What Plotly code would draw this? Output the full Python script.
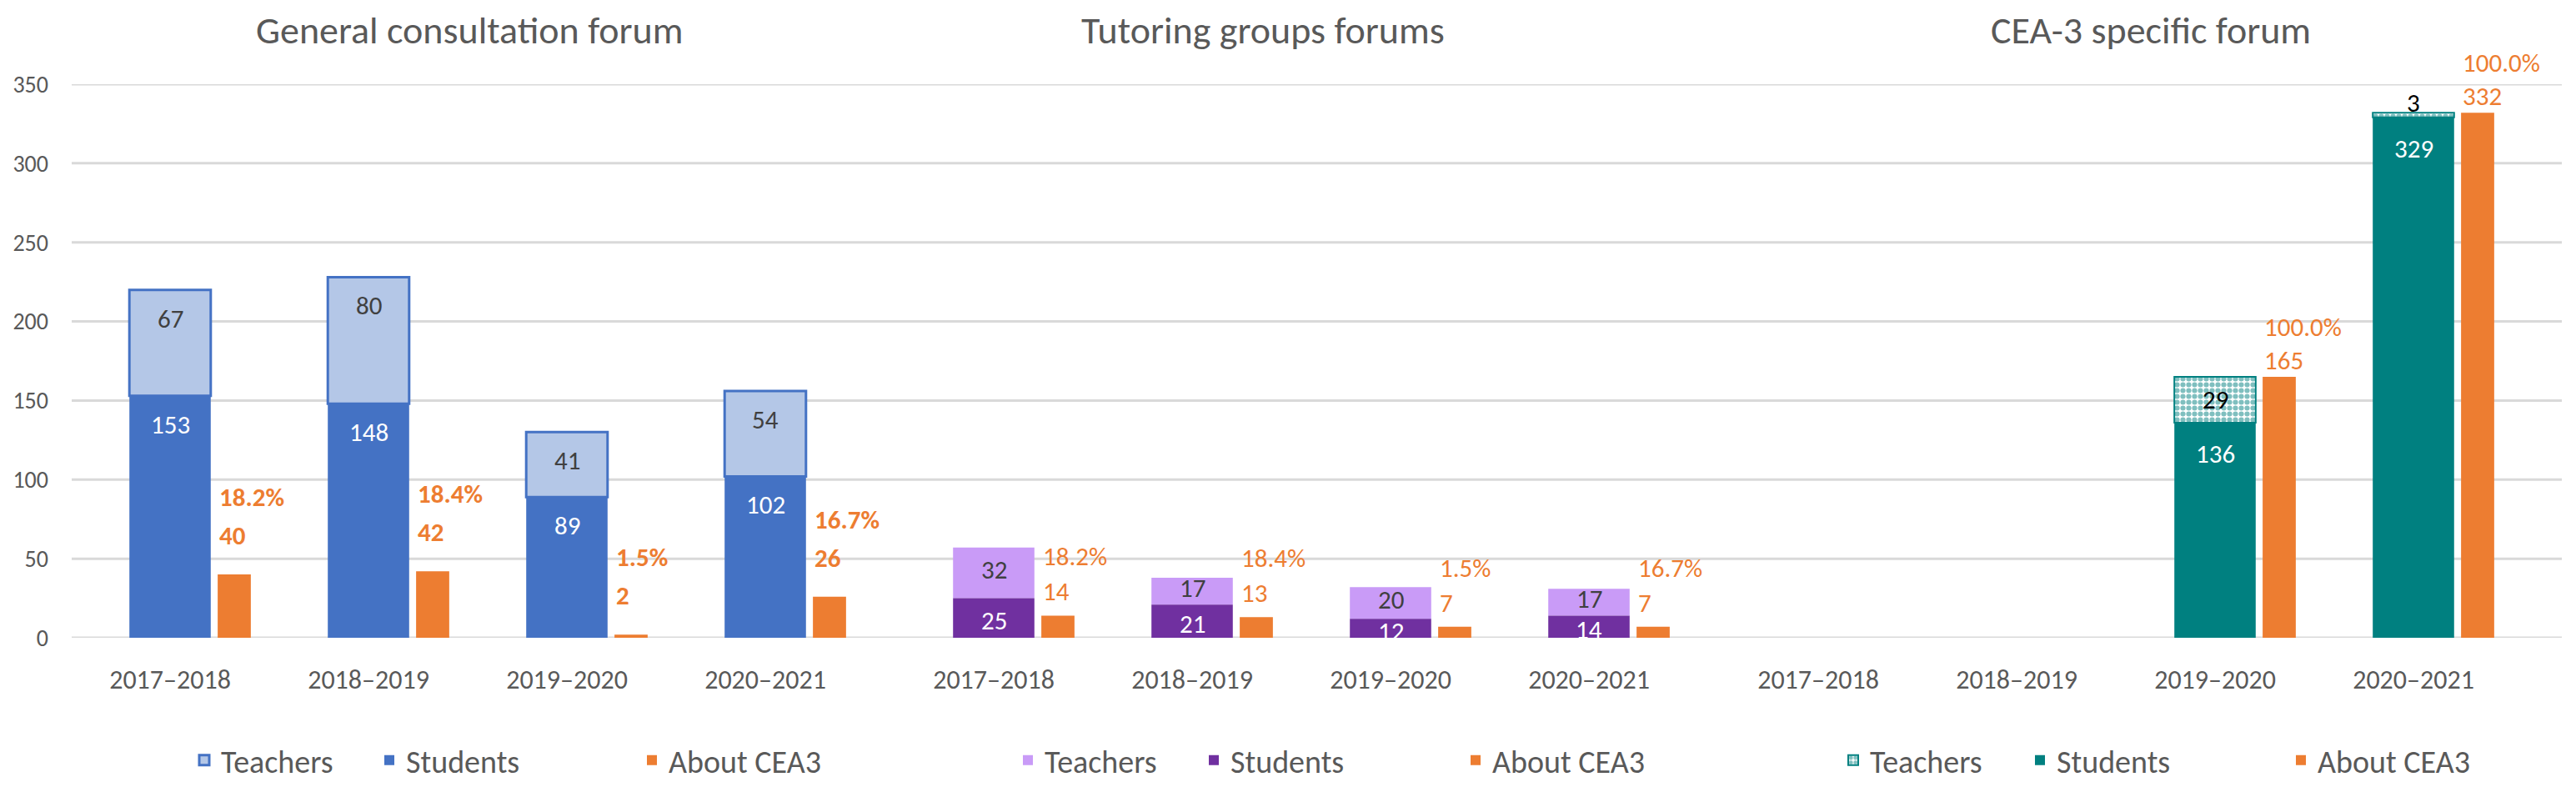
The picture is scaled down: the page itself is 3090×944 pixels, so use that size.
import plotly.graph_objects as go

# ---------------- data ----------------
years = ["2017–2018", "2018–2019", "2019–2020", "2020–2021"]

gen_teachers = [67, 80, 41, 54]
gen_students = [153, 148, 89, 102]
gen_cea3 = [40, 42, 2, 26]
gen_pct = ["18.2%", "18.4%", "1.5%", "16.7%"]

tut_teachers = [32, 17, 20, 17]
tut_students = [25, 21, 12, 14]
tut_cea3 = [14, 13, 7, 7]
tut_pct = ["18.2%", "18.4%", "1.5%", "16.7%"]

cea_teachers = [None, None, 29, 3]
cea_students = [None, None, 136, 329]
cea_cea3 = [None, None, 165, 332]
cea_pct = [None, None, "100.0%", "100.0%"]

titles = ["General consultation forum", "Tutoring groups forums", "CEA-3 specific forum"]
y_ticks = [0, 50, 100, 150, 200, 250, 300, 350]

# ---------------- style / layout (screen pixels, page has an 8px body margin) ----------------
OFF = 8
FW, FH = 3090 - 2 * OFF, 944 - 2 * OFF
FONT = "Carlito, Calibri, 'Liberation Sans Narrow', 'Open Sans', sans-serif"
GREY = "#595959"
ORANGE = "#ED7D31"


def px_x(px):
    return (px - OFF) / FW


def px_y(py):
    return 1 - (py - OFF) / FH


ydom = [px_y(765), px_y(101)]
xdoms = [[px_x(85), px_x(1037)], [px_x(1073), px_x(2025)], [px_x(2062), px_x(3014)]]
title_cx = [563, 1515, 2580]
TITLE_Y = 36
legend_text_x = [[263, 485, 800], [1251, 1474, 1788], [2241, 2465, 2778]]
LEG_Y = 912
STK_W, STK_OFF = 0.41, -0.205
OR_W, OR_OFF = 0.167, 0.24
LBL = 31

panels = [
    dict(t=gen_teachers, s=gen_students, c=gen_cea3, p=gen_pct,
         tcol="#B4C7E7", scol="#4472C4", tline=dict(color="#4472C4", width=3),
         tpattern=None, tlabel="#404040", bold=True,
         mode="end", end_shift=-34, val_lift=47, pct_gap=46),
    dict(t=tut_teachers, s=tut_students, c=tut_cea3, p=tut_pct,
         tcol="#C99BF7", scol="#7030A0", tline=dict(width=0),
         tpattern=None, tlabel="#404040", bold=False,
         mode="center", end_shift=0, val_lift=29, pct_gap=42),
    dict(t=cea_teachers, s=cea_students, c=cea_cea3, p=cea_pct,
         tcol="#FFFFFF", scol="#008080", tline=dict(color="#008080", width=2),
         tpattern=dict(shape=".", fgcolor="#008080", bgcolor="#FFFFFF", size=7, solidity=0.6),
         tlabel="#000000", bold=False,
         mode="end_center", end_shift=-37, val_lift=20, pct_gap=40),
]

fig = go.Figure()
annotations = []


def ann(x, y, xa, ya, text, color, yshift=0, xanchor="center", bold=False):
    if bold:
        text = f"<b>{text}</b>"
    return dict(x=x, y=y, xref=xa, yref=ya, xanchor=xanchor, yanchor="middle",
                yshift=yshift, text=text, showarrow=False,
                font=dict(family=FONT, size=LBL, color=color))


for k, pn in enumerate(panels):
    xa = "x" if k == 0 else f"x{k+1}"
    ya = "y" if k == 0 else f"y{k+1}"
    lg = [f"legend{3*k+j+2}" for j in range(3)]
    tmarker = dict(color=pn["tcol"], line=pn["tline"])
    if pn["tpattern"]:
        tmarker["pattern"] = pn["tpattern"]
    fig.add_trace(go.Bar(
        x=years, y=pn["t"], base=pn["s"], name="Teachers", marker=tmarker,
        width=STK_W, offset=STK_OFF, cliponaxis=False,
        xaxis=xa, yaxis=ya, legend=lg[0], showlegend=True,
    ))
    fig.add_trace(go.Bar(
        x=years, y=pn["s"], name="Students",
        marker=dict(color=pn["scol"], line=dict(width=0)),
        width=STK_W, offset=STK_OFF, cliponaxis=False,
        xaxis=xa, yaxis=ya, legend=lg[1], showlegend=True,
    ))
    fig.add_trace(go.Bar(
        x=years, y=pn["c"], name="About CEA3",
        marker=dict(color=ORANGE, line=dict(width=0)),
        width=OR_W, offset=OR_OFF, cliponaxis=False,
        xaxis=xa, yaxis=ya, legend=lg[2], showlegend=True,
    ))

    for i in range(len(years)):
        s, t, c, p = pn["s"][i], pn["t"][i], pn["c"][i], pn["p"][i]
        if s is None:
            continue
        # students / teachers labels
        if pn["mode"] == "center":
            annotations.append(ann(i, s / 2, xa, ya, str(s), "#FFFFFF", -3))
            annotations.append(ann(i, s + t / 2, xa, ya, str(t), pn["tlabel"], 4))
        elif pn["mode"] == "end":
            annotations.append(ann(i, s, xa, ya, str(s), "#FFFFFF", pn["end_shift"]))
            annotations.append(ann(i, s + t, xa, ya, str(t), pn["tlabel"], pn["end_shift"]))
        else:  # students inside end, teachers centred or above when tiny
            annotations.append(ann(i, s, xa, ya, str(s), "#FFFFFF", pn["end_shift"]))
            if t >= 10:
                annotations.append(ann(i, s + t / 2, xa, ya, str(t), pn["tlabel"]))
            else:
                annotations.append(ann(i, s + t, xa, ya, str(t), pn["tlabel"], 12))
        # About CEA3 labels (value + share)
        annotations.append(ann(i + OR_OFF, c, xa, ya, str(c), ORANGE, pn["val_lift"],
                               xanchor="left", bold=pn["bold"]))
        annotations.append(ann(i + OR_OFF, c, xa, ya, p, ORANGE, pn["val_lift"] + pn["pct_gap"],
                               xanchor="left", bold=pn["bold"]))

    annotations.append(dict(
        x=px_x(title_cx[k]), y=px_y(TITLE_Y), xref="paper", yref="paper",
        xanchor="center", yanchor="middle", text=titles[k], showarrow=False,
        font=dict(family=FONT, size=46, color=GREY),
    ))

shapes = [dict(type="line", xref="paper", yref="y", x0=px_x(86), x1=px_x(3073),
               y0=v, y1=v, line=dict(color="#D9D9D9", width=3), layer="below")
          for v in y_ticks]

layout = dict(
    width=FW, height=FH, margin=dict(l=0, r=0, t=0, b=0, pad=0, autoexpand=False),
    plot_bgcolor="white", paper_bgcolor="white", showlegend=True,
    barmode="overlay", annotations=annotations, shapes=shapes,
    font=dict(family=FONT, color=GREY),
)
for k in range(3):
    xa = "xaxis" if k == 0 else f"xaxis{k+1}"
    ya = "yaxis" if k == 0 else f"yaxis{k+1}"
    layout[xa] = dict(domain=xdoms[k], anchor="y" if k == 0 else f"y{k+1}",
                      type="category", range=[-0.5, 3.5], showgrid=False, zeroline=False,
                      showline=False, ticks="", ticklabelstandoff=28, automargin=False,
                      tickfont=dict(family=FONT, size=32, color=GREY), fixedrange=True)
    layout[ya] = dict(domain=ydom, anchor="x" if k == 0 else f"x{k+1}", range=[0, 350],
                      tickvals=y_ticks, showgrid=False, zeroline=False, showline=False,
                      showticklabels=(k == 0), ticks="", ticklabelstandoff=26, automargin=False,
                      tickfont=dict(family=FONT, size=28, color=GREY), fixedrange=True)
for k in range(3):
    for j in range(3):
        name = f"legend{3*k+j+2}"
        layout[name] = dict(
            x=px_x(legend_text_x[k][j] - 38), y=px_y(LEG_Y), xanchor="left", yanchor="middle",
            orientation="h", bgcolor="rgba(0,0,0,0)", borderwidth=0,
            font=dict(family=FONT, size=38, color=GREY),
        )
fig.update_layout(**layout)
fig.write_html("out.html")
